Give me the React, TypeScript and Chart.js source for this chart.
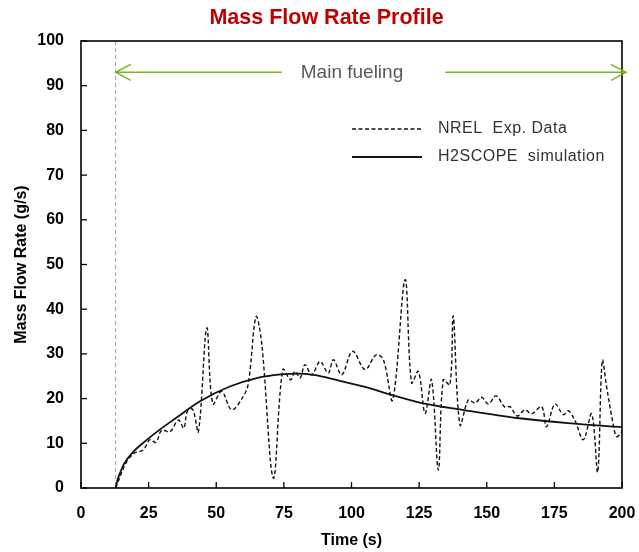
import React, { useEffect, useRef } from "react";
import { Chart, registerables } from "chart.js";

Chart.register(...registerables);

const expTime = [12.8, 16.9, 20, 23, 25.5, 27.7, 29.8, 32.9, 36, 38, 39.3, 41.3, 43.4, 46.5, 48.7, 52, 55.7, 60, 61.9, 64.7, 66.8, 71.1, 74.6, 77.5, 79.1, 81, 82.8, 85.3, 88.4, 91.4, 93.3, 96.4, 100.4, 105, 109.1, 111.8, 115.2, 119.8, 122.2, 124.7, 127.2, 129.6, 132.1, 133.9, 136.4, 137.6, 140.1, 143.2, 145.7, 148.1, 150.6, 153.4, 156.7, 158.6, 161.3, 164.1, 166.6, 170.3, 172.1, 175.2, 178.3, 180.1, 182.6, 185.7, 188.8, 191, 192.7, 194.3, 196.2, 198, 199.9];
const expFlow = [0, 5.9, 7.9, 8.5, 10.8, 10.2, 12.9, 12.6, 15.2, 13.4, 17.1, 17.6, 12.6, 35.8, 18.8, 21.6, 17.5, 20.5, 23.5, 38.3, 32.4, 2.2, 26.5, 24.2, 26.1, 24.6, 27.6, 25.3, 28.3, 25.7, 28.7, 25.3, 30.6, 26.5, 29.8, 28.7, 19.7, 46.6, 23.5, 26.1, 16.7, 24.2, 4, 24.2, 23.1, 38.4, 14.1, 19.7, 19, 20.3, 18.8, 20.6, 18.1, 18.2, 16.1, 17.5, 16.6, 18.2, 13.7, 18.8, 16.4, 17.3, 15.1, 10.8, 16.6, 3.6, 28.5, 22.7, 16, 11.5, 12.6];

const simTime = [12.8, 13.5, 14.4, 16, 19.3, 24, 29, 35, 44, 55, 65, 74, 80, 86, 95, 105, 115, 126, 141, 162, 180, 200];
const simFlow = [0, 1.8, 3.3, 5.5, 8.1, 10.6, 13, 15.6, 19.4, 22.7, 24.6, 25.4, 25.6, 25.3, 24.1, 22.6, 20.8, 19, 17.5, 15.6, 14.5, 13.6];

const chartTitle = "Mass Flow Rate Profile";
const seriesNames = ["NREL  Exp. Data", "H2SCOPE  simulation"];
const fuelStart = 12.8;
const fuelEnd = 200;
const arrowLevel = 93;
const arrowLabel = "Main fueling";
const xTicks = { min: 0, max: 200, step: 25 };
const yTicks = { min: 0, max: 100, step: 10 };

const FONT = "'Liberation Sans', Arial, sans-serif";

const overlay = {
  id: "overlay",
  beforeDatasetsDraw(chart: any) {
    const { ctx, chartArea, scales } = chart;
    const x = scales.x.getPixelForValue(fuelStart);
    ctx.save();
    ctx.strokeStyle = "#a0a0a0";
    ctx.lineWidth = 1;
    ctx.setLineDash([4, 3]);
    ctx.beginPath();
    ctx.moveTo(x, chartArea.top);
    ctx.lineTo(x, chartArea.bottom);
    ctx.stroke();
    ctx.restore();
  },
  afterDraw(chart: any) {
    const { ctx, chartArea, scales } = chart;
    const { left, right, top, bottom } = chartArea;
    ctx.save();
    // title
    ctx.font = `bold 21.5px ${FONT}`;
    ctx.fillStyle = "#c00000";
    ctx.textAlign = "center";
    ctx.textBaseline = "middle";
    ctx.fillText(chartTitle, 326.5, 18);

    // inner tick marks
    ctx.strokeStyle = "#000";
    ctx.lineWidth = 1.3;
    scales.x.ticks.forEach((t: any) => {
      const px = scales.x.getPixelForValue(t.value);
      ctx.beginPath();
      ctx.moveTo(px, bottom);
      ctx.lineTo(px, bottom - 6);
      ctx.stroke();
    });
    scales.y.ticks.forEach((t: any) => {
      const py = scales.y.getPixelForValue(t.value);
      ctx.beginPath();
      ctx.moveTo(left, py);
      ctx.lineTo(left + 6, py);
      ctx.stroke();
    });
    // border
    ctx.lineWidth = 1.6;
    ctx.strokeRect(left, top, right - left, bottom - top);

    // green arrow
    const ay = scales.y.getPixelForValue(arrowLevel);
    const ax1 = scales.x.getPixelForValue(fuelStart);
    const ax2 = scales.x.getPixelForValue(fuelEnd) + 4;
    ctx.font = `19px ${FONT}`;
    const tw = ctx.measureText(arrowLabel).width;
    const cx = 352;
    const gap1 = cx - tw / 2 - 19;
    const gap2 = cx + tw / 2 + 42;
    ctx.strokeStyle = "#7ab51d";
    ctx.lineWidth = 1.5;
    ctx.beginPath();
    ctx.moveTo(ax1, ay);
    ctx.lineTo(gap1, ay);
    ctx.moveTo(gap2, ay);
    ctx.lineTo(ax2, ay);
    ctx.moveTo(ax1 + 15, ay - 8);
    ctx.lineTo(ax1, ay);
    ctx.lineTo(ax1 + 15, ay + 8);
    ctx.moveTo(ax2 - 15, ay - 8);
    ctx.lineTo(ax2, ay);
    ctx.lineTo(ax2 - 15, ay + 8);
    ctx.stroke();
    ctx.fillStyle = "#595959";
    ctx.textAlign = "center";
    ctx.textBaseline = "middle";
    ctx.fillText(arrowLabel, cx, ay);

    // legend
    const ds = chart.data.datasets;
    const lx1 = 352, lx2 = 422, tx = 438;
    const ly = [129, 157];
    ctx.font = `16px ${FONT}`;
    ctx.textAlign = "left";
    try { (ctx as any).letterSpacing = "0.5px"; } catch (e) {}
    ds.forEach((d: any, i: number) => {
      ctx.strokeStyle = d.borderColor;
      ctx.lineWidth = d.borderWidth;
      ctx.setLineDash(d.borderDash || []);
      ctx.beginPath();
      ctx.moveTo(lx1, ly[i]);
      ctx.lineTo(lx2, ly[i]);
      ctx.stroke();
      ctx.setLineDash([]);
      ctx.fillStyle = "#333";
      ctx.fillText(d.label, tx, ly[i]);
    });
    try { (ctx as any).letterSpacing = "0px"; } catch (e) {}
    ctx.restore();
  },
};

export default function App() {
  const ref = useRef<HTMLCanvasElement | null>(null);
  useEffect(() => {
    if (!ref.current) return;
    const chart = new Chart(ref.current, {
      type: "line",
      data: {
        datasets: [
          {
            label: seriesNames[0],
            data: expTime.map((t, i) => ({ x: t, y: expFlow[i] })),
            borderColor: "#111",
            borderWidth: 1.4,
            borderDash: [4, 2.5],
            pointRadius: 0,
            tension: 0.35,
            fill: false,
          },
          {
            label: seriesNames[1],
            data: simTime.map((t, i) => ({ x: t, y: simFlow[i] })),
            borderColor: "#111",
            borderWidth: 1.8,
            pointRadius: 0,
            cubicInterpolationMode: "monotone",
            fill: false,
          },
        ],
      },
      options: {
        animation: false,
        responsive: true,
        maintainAspectRatio: false,
        layout: { padding: { left: 0, right: 17, top: 41, bottom: 0 } },
        plugins: {
          legend: { display: false },
          tooltip: { enabled: false },
          title: { display: false },
        },
        scales: {
          x: {
            type: "linear",
            min: xTicks.min,
            max: xTicks.max,
            grid: { display: false, drawTicks: false },
            border: { display: false },
            ticks: {
              stepSize: xTicks.step,
              color: "#000",
              padding: 16,
              maxRotation: 0,
              font: { family: FONT, size: 16, weight: "bold" },
            },
            title: {
              display: true,
              text: "Time (s)",
              color: "#000",
              font: { family: FONT, size: 16, weight: "bold" },
              padding: { top: 0, bottom: 2 },
            },
            afterFit: (s: any) => {
              s.height = 64;
              s.paddingRight = 0;
              s.paddingLeft = 0;
            },
          },
          y: {
            min: yTicks.min,
            max: yTicks.max,
            grid: { display: false, drawTicks: false },
            border: { display: false },
            ticks: {
              stepSize: yTicks.step,
              color: "#000",
              padding: 17,
              font: { family: FONT, size: 16, weight: "bold" },
            },
            title: {
              display: true,
              text: "Mass Flow Rate (g/s)",
              color: "#000",
              font: { family: FONT, size: 16, weight: "bold" },
              padding: { top: 12, bottom: 0 },
            },
            afterFit: (s: any) => {
              s.width = 81;
              s.paddingTop = 0;
            },
          },
        },
      },
      plugins: [overlay],
    } as any);
    return () => chart.destroy();
  }, []);
  return (
    <div style={{ position: "absolute", left: 0, top: 0, width: 639, height: 552, background: "#fff" }}>
      <canvas ref={ref} />
    </div>
  );
}
